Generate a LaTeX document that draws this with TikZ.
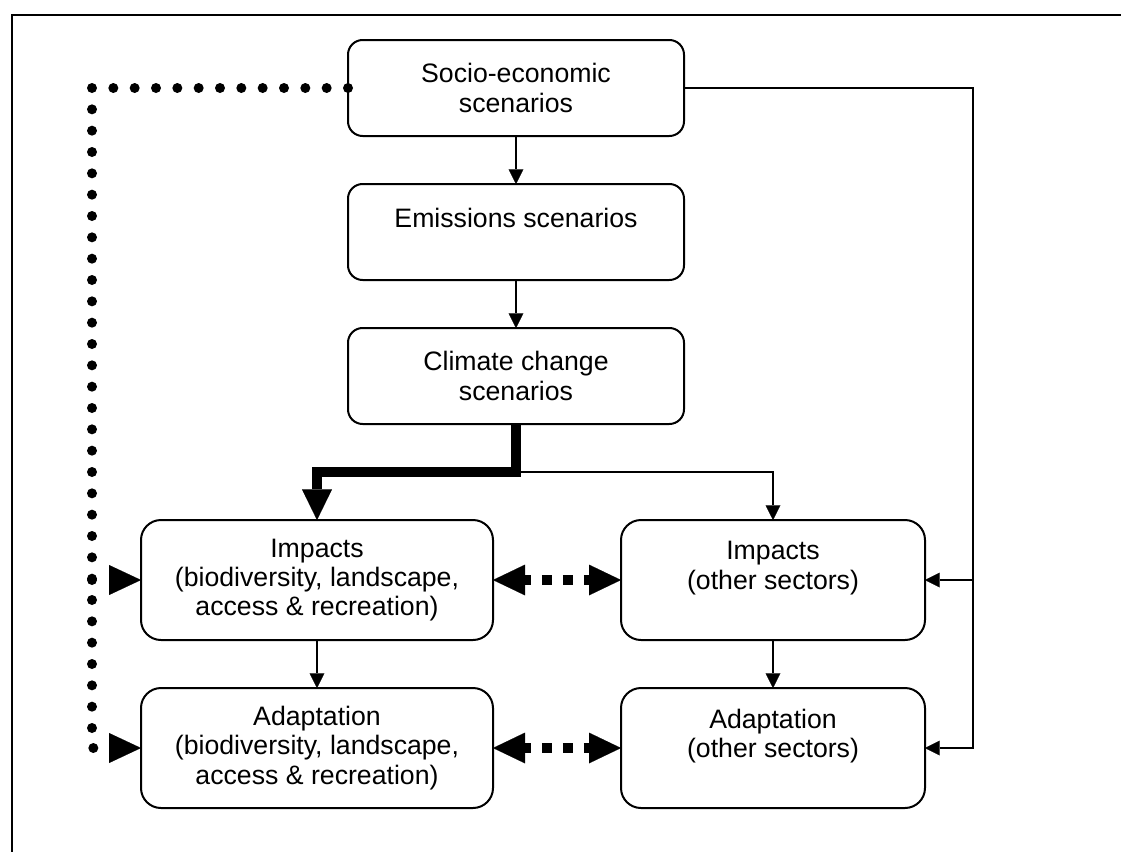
\documentclass[tikz,border=0pt]{standalone}
\usepackage{fontspec}
\setmainfont{Liberation Sans}
\usetikzlibrary{arrows.meta}
\begin{document}
\begin{tikzpicture}[x=0.75pt,y=-0.75pt,
  box/.style={draw, line width=1.5pt, rounded corners=11pt, align=center, inner sep=0pt, outer sep=0pt, font=\fontsize{20pt}{22pt}\selectfont},
  topbox/.style={box, minimum width=252pt, minimum height=72pt},
  lowbox/.style={box, rounded corners=15pt, minimum height=90pt},
  conn/.style={line width=1.6pt, -{Triangle[length=11pt,width=11pt,line width=0.1pt]}},
  heavy/.style={line width=7.5pt, -{Triangle[length=23pt,width=22.5pt,line width=0.1pt]}},
  dotline/.style={line width=7.5pt, line cap=round, dash pattern=on 0pt off 16pt},
  dottip/.style={dotline, -{Triangle[length=24pt,width=22.5pt,line width=0.1pt]}},
  dashlink/.style={line width=7.5pt, dash pattern=on 7.5pt off 8.25pt, dash phase=3pt,
    {Triangle[length=24pt,width=23pt,line width=0.1pt]}-{Triangle[length=24pt,width=23pt,line width=0.1pt]}}
]
\useasboundingbox (0,0) rectangle (1121,851);
\clip (0,0) rectangle (1121,851);
\draw[line width=2pt] (12,15) rectangle (1200,900);

\node[topbox] (soc) at (516,88) {Socio-economic\\scenarios};
\node[topbox] (emi) at (516,232) {Emissions scenarios\\\mbox{}};
\node[topbox] (cli) at (516,376) {Climate change\\scenarios};
\node[lowbox, minimum width=264pt] (impL) at (317,580) {Impacts\\(biodiversity, landscape,\\access \& recreation)};
\node[lowbox, minimum width=228pt] (impR) at (773,580) {Impacts\\(other sectors)\\\mbox{}};
\node[lowbox, minimum width=264pt] (adaL) at (317,748) {Adaptation\\(biodiversity, landscape,\\access \& recreation)};
\node[lowbox, minimum width=228pt] (adaR) at (773,748) {Adaptation\\(other sectors)\\\mbox{}};

\coordinate (split) at (516,472);
\coordinate (rtop) at (973,88);
\coordinate (rmid) at (973,580);
\coordinate (rbot) at (973,748);
\coordinate (ltop) at (92,88);
\coordinate (lmid) at (92,580);
\coordinate (lbot) at (92,748);

\draw[conn] (soc) -- (emi);
\draw[conn] (emi) -- (cli);
\draw[heavy] (cli.south) -- (split) -| (impL.north);
\draw[conn] (split) -| (impR.north);
\draw[conn] (soc.east) -- (rtop) -- (rbot) -- (adaR.east);
\draw[conn] (rmid) -- (impR.east);
\draw[conn] (impL) -- (adaL);
\draw[conn] (impR) -- (adaR);
\draw[dottip] (soc.west) -- (ltop) -- (lbot) -- (adaL.west);
\draw[dottip] (lmid) -- (impL.west);
\draw[dashlink] (impL.east) -- (impR.west);
\draw[dashlink] (adaL.east) -- (adaR.west);
\end{tikzpicture}
\end{document}
